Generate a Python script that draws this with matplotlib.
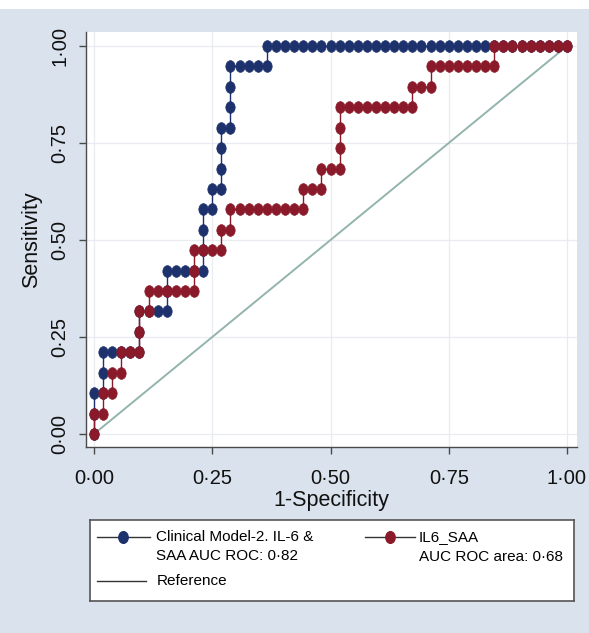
import matplotlib
matplotlib.use("Agg")
import matplotlib.pyplot as plt
from matplotlib.path import Path
from matplotlib.transforms import Affine2D
from matplotlib.patches import Rectangle
import numpy as np

plt.rcParams['font.family'] = ['Liberation Sans', 'DejaVu Sans']

# ---------------- data ----------------
N_NEG = 52   # number of negatives (x step = 1/52)
N_POS = 19   # number of positives (y step = 1/19)

# Clinical Model-2 (IL-6 & SAA): false-positive / true-positive counts at each cutoff
model2_fp = [0, 0, 0, 1, 1, 1, 2, 3, 4, 5, 5, 5, 6, 7, 8, 8, 8, 9, 10, 11, 12, 12, 12, 12,
             13, 13, 14, 14, 14, 14, 15, 15, 15, 15, 16, 17, 18, 19, 19,
             20, 21, 22, 23, 24, 25, 26, 27, 28, 29, 30, 31, 32, 33, 34, 35, 36, 37, 38,
             39, 40, 41, 42, 43, 44, 45, 46, 47, 48, 49, 50, 51, 52]
model2_tp = [0, 1, 2, 2, 3, 4, 4, 4, 4, 4, 5, 6, 6, 6, 6, 7, 8, 8, 8, 8, 8, 9, 10, 11,
             11, 12, 12, 13, 14, 15, 15, 16, 17, 18, 18, 18, 18, 18, 19,
             19, 19, 19, 19, 19, 19, 19, 19, 19, 19, 19, 19, 19, 19, 19, 19, 19, 19, 19,
             19, 19, 19, 19, 19, 19, 19, 19, 19, 19, 19, 19, 19, 19]

# IL6_SAA
il6saa_fp = [0, 0, 1, 1, 2, 2, 3, 3, 4, 5, 5, 5, 6, 6, 7, 8, 9, 10, 11, 11, 11, 12, 13, 14,
             14, 15, 15, 16, 17, 18, 19, 20, 21, 22, 23, 23, 24, 25, 25, 26, 27, 27, 27,
             27, 28, 29, 30, 31, 32, 33, 34, 35, 35, 36, 37, 37, 38, 39, 40, 41, 42, 43,
             44, 44, 45, 46, 47, 48, 49, 50, 51, 52]
il6saa_tp = [0, 1, 1, 2, 2, 3, 3, 4, 4, 4, 5, 6, 6, 7, 7, 7, 7, 7, 7, 8, 9, 9, 9, 9,
             10, 10, 11, 11, 11, 11, 11, 11, 11, 11, 11, 12, 12, 12, 13, 13, 13, 14, 15,
             16, 16, 16, 16, 16, 16, 16, 16, 16, 17, 17, 17, 18, 18, 18, 18, 18, 18, 18,
             18, 19, 19, 19, 19, 19, 19, 19, 19, 19]

ref_x = [0.0, 1.0]
ref_y = [0.0, 1.0]

tick_vals = [0.0, 0.25, 0.5, 0.75, 1.0]
tick_labels = ['0·00', '0·25', '0·50', '0·75', '1·00']

label_model2 = 'Clinical Model-2. IL-6 &\nSAA AUC ROC: 0·82'
label_il6 = 'IL6_SAA\nAUC ROC area: 0·68'
label_ref = 'Reference'

# ---------------- styles ----------------
BLUE = '#1d316c'
RED = '#8a1a2a'
REF_C = '#93b4ad'
BG = '#d9e2ed'
AXC = '#4a4a4a'
MS = 8.4

W, H = 589, 633
fig = plt.figure(figsize=(W / 100, H / 100), dpi=100)
fig.patch.set_facecolor('white')
fig.patches.append(Rectangle((0, 0), 1, 1 - 9 / H, transform=fig.transFigure,
                             facecolor=BG, edgecolor='none', zorder=-10))

# ellipse marker (taller than wide)
circ = Path.unit_circle()
ell = Path(Affine2D().scale(0.8, 1.0).transform(circ.vertices), circ.codes)

ax = fig.add_axes([86 / W, (H - 447) / H, 491 / W, 415 / H])
ax.set_facecolor('white')
ax.set_xlim(-8 / 473, 1 + 10 / 473)
ax.set_ylim(-13 / 388, 1 + 14 / 388)

ax.grid(True, color='#e8ecf1', lw=0.9, zorder=0)
ax.set_axisbelow(True)

ax.plot(ref_x, ref_y, color=REF_C, lw=1.4, zorder=2)

x_m2 = np.array(model2_fp) / N_NEG
y_m2 = np.array(model2_tp) / N_POS
x_il = np.array(il6saa_fp) / N_NEG
y_il = np.array(il6saa_tp) / N_POS

ax.plot(x_m2, y_m2, color=BLUE, lw=1.0, marker=ell, ms=MS, mfc=BLUE, mec=BLUE,
        mew=0.5, zorder=3, clip_on=False)
ax.plot(x_il, y_il, color=RED, lw=1.0, marker=ell, ms=MS, mfc=RED, mec=RED,
        mew=0.5, zorder=4, clip_on=False)

ax.set_xticks(tick_vals, tick_labels)
ax.set_yticks(tick_vals, tick_labels)
ax.tick_params(axis='both', length=5, width=1, color=AXC, labelsize=14.5, labelcolor='#111111')
ax.tick_params(axis='x', pad=11)
ax.tick_params(axis='y', pad=7, labelrotation=90)
for lab in ax.get_yticklabels():
    lab.set_va('center')

for s in ['top', 'right']:
    ax.spines[s].set_visible(False)
for s in ['left', 'bottom']:
    ax.spines[s].set_color(AXC)
    ax.spines[s].set_linewidth(1.0)

ax.set_xlabel('1-Specificity', fontsize=15.5, labelpad=1, color='#111111')
ax.set_ylabel('Sensitivity', fontsize=15.5, labelpad=6, color='#111111')

# ---------------- legend box (drawn in its own pixel-coordinate axes) ----------------
lx0, ly0, lw_, lh_ = 90, 520, 484, 81
lax = fig.add_axes([lx0 / W, 1 - (ly0 + lh_) / H, lw_ / W, lh_ / H])
lax.set_xlim(0, lw_)
lax.set_ylim(lh_, 0)
lax.set_xticks([])
lax.set_yticks([])
lax.set_facecolor('white')
for s in lax.spines.values():
    s.set_color('#555555')
    s.set_linewidth(1.2)

LEG_FS = 11
r1, r2, r3 = 17, 36, 61
lax.plot([7, 60], [r1, r1], color='#333333', lw=1.0)
lax.plot([33], [r1], marker=ell, ms=MS, color=BLUE)
lax.text(66, r1, label_model2.split('\n')[0], fontsize=LEG_FS, va='center', ha='left')
lax.text(66, r2, label_model2.split('\n')[1], fontsize=LEG_FS, va='center', ha='left')

lax.plot([275, 325], [r1, r1], color='#333333', lw=1.0)
lax.plot([300], [r1], marker=ell, ms=MS, color=RED)
lax.text(329, r1, label_il6.split('\n')[0], fontsize=LEG_FS, va='center', ha='left')
lax.text(329, r2 + 1, label_il6.split('\n')[1], fontsize=LEG_FS, va='center', ha='left')

lax.plot([7, 56], [r3, r3], color='#333333', lw=1.0)
lax.text(67, r3, label_ref, fontsize=LEG_FS, va='center', ha='left')

fig.savefig('out.png', dpi=100, facecolor=fig.get_facecolor())
